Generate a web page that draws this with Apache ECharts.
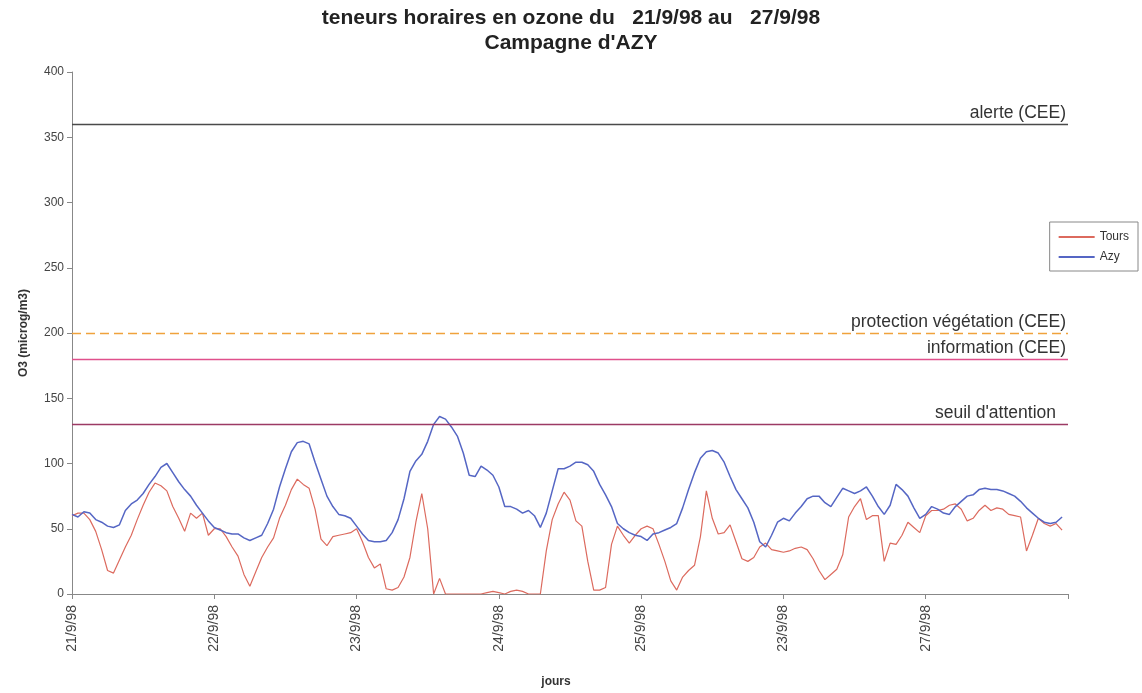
<!DOCTYPE html>
<html>
<head>
<meta charset="utf-8">
<script src="https://cdn.jsdelivr.net/npm/echarts@6/dist/echarts.min.js"></script>
<style>
  html, body { margin: 0; padding: 0; background: #fff; }
  #chart { width: 1142px; height: 693px; }
</style>
</head>
<body>
<div id="chart"></div>
<script>
// day labels, one per 24 hourly points (6th label as printed on the original)
const dayLabels = ['21/9/98', '22/9/98', '23/9/98', '24/9/98', '25/9/98', '23/9/98', '27/9/98', ''];

// hourly ozone, microg/m3
const tours = [
  60, 62, 62, 57, 48, 34, 18, 16, 26, 36, 45, 57, 68, 78, 85, 83, 79, 67, 58, 48, 62, 58, 62, 45,
  50, 50, 44, 36, 29, 15, 6, 17, 28, 36, 43, 58, 68, 80, 88, 84, 81, 65, 42, 37, 44, 45, 46, 47,
  50, 40, 28, 20, 23, 4, 3, 5, 13, 28, 55, 77, 50, 0, 12, 0, 0, 0, 0, 0, 0, 0, 1, 2,
  1, 0, 2, 3, 2, 0, 0, 0, 33, 57, 69, 78, 72, 56, 52, 25, 3, 3, 5, 38, 52, 45, 39, 45,
  50, 52, 50, 38, 25, 10, 3, 13, 18, 22, 44, 79, 58, 46, 47, 53, 40, 27, 25, 28, 36, 39, 34, 33,
  32, 33, 35, 36, 34, 27, 18, 11, 15, 19, 30, 59, 67, 73, 57, 60, 60, 25, 39, 38, 45, 55, 51, 47,
  60, 64, 64, 65, 68, 69, 65, 56, 58, 64, 68, 64, 66, 65, 61, 60, 59, 33, 45, 58, 54, 52, 54, 49,
];

const azy = [
  61, 59, 63, 62, 57, 55, 52, 51, 53, 64, 69, 72, 77, 84, 90, 97, 100, 93, 86, 80, 75, 68, 62, 56,
  51, 49, 47, 46, 46, 43, 41, 43, 45, 54, 65, 82, 96, 109, 116, 117, 115, 101, 88, 75, 67, 61, 60, 58,
  52, 46, 41, 40, 40, 41, 47, 57, 73, 94, 102, 107, 117, 130, 136, 134, 128, 121, 108, 91, 90, 98, 95, 91,
  82, 67, 67, 65, 62, 64, 60, 51, 62, 79, 96, 96, 98, 101, 101, 99, 94, 84, 76, 67, 54, 50, 47, 45,
  44, 41, 46, 47, 49, 51, 54, 66, 80, 93, 104, 109, 110, 108, 101, 90, 80, 73, 66, 55, 40, 36, 45, 55,
  58, 56, 62, 67, 73, 75, 75, 70, 67, 74, 81, 79, 77, 79, 82, 75, 67, 61, 68, 84, 80, 75, 66, 58,
  61, 67, 65, 62, 61, 67, 71, 75, 76, 80, 81, 80, 80, 79, 77, 75, 71, 66, 62, 58, 55, 54, 55, 59,
];

// regulatory thresholds
const thresholdNames = ['alerte (CEE)', 'protection végétation (CEE)', 'information (CEE)', "seuil d'attention"];
const thresholdValues = [360, 200, 180, 130];
const thresholdColors = ['#4a4a4a', '#f0a23c', '#e0508c', '#9c3a64'];

const hours = [];
for (let i = 0; i <= 168; i++) {
  hours.push(i % 24 === 0 ? dayLabels[i / 24] : '');
}

const font = 'Liberation Sans, Arial, sans-serif';

const chart = echarts.init(document.getElementById('chart'));

const option = {
  animation: false,
  textStyle: { fontFamily: font },
  title: {
    text: "teneurs horaires en ozone du   21/9/98 au   27/9/98\nCampagne d'AZY",
    left: 'center',
    top: 1,
    textStyle: {
      fontFamily: font,
      fontSize: 21,
      fontWeight: 'bold',
      color: '#222',
      lineHeight: 25,
    },
  },
  grid: {
    left: 72,
    right: 74,
    top: 72,
    bottom: 96,
  },
  legend: {
    orient: 'vertical',
    right: 4,
    top: 222,
    itemWidth: 36,
    itemHeight: 2,
    itemGap: 8,
    padding: [9, 9, 8, 9],
    borderColor: '#888',
    borderWidth: 1,
    backgroundColor: '#fff',
    icon: 'rect',
    textStyle: { fontSize: 12, color: '#333', fontFamily: font },
    data: ['Tours', 'Azy'],
  },
  xAxis: {
    type: 'category',
    data: hours,
    boundaryGap: false,
    name: 'jours',
    nameLocation: 'middle',
    nameGap: 82,
    nameTextStyle: { fontSize: 12, fontWeight: 'bold', color: '#333', padding: [0, 28, 0, 0] },
    axisLine: { lineStyle: { color: '#888' } },
    axisTick: { interval: 23, length: 5, lineStyle: { color: '#888' } },
    axisLabel: {
      interval: 23,
      rotate: 90,
      fontSize: 14,
      color: '#444',
      margin: 11,
    },
    splitLine: { show: false },
  },
  yAxis: {
    type: 'value',
    min: 0,
    max: 400,
    interval: 50,
    name: 'O3 (microg/m3)',
    nameLocation: 'middle',
    nameGap: 42,
    nameTextStyle: { fontSize: 12, fontWeight: 'bold', color: '#333' },
    axisLine: { show: true, lineStyle: { color: '#888' } },
    axisTick: { show: true, length: 5, lineStyle: { color: '#888' } },
    axisLabel: { fontSize: 12, color: '#444', margin: 8 },
    splitLine: { show: false },
  },
  series: [
    {
      name: 'Tours',
      type: 'line',
      data: tours,
      symbol: 'none',
      color: '#dc6a5e',
      lineStyle: { width: 1.2, color: '#dc6a5e' },
      markLine: {
        silent: true,
        symbol: 'none',
        data: thresholdValues.map((v, i) => ({
          name: thresholdNames[i],
          yAxis: v,
          lineStyle: {
            color: thresholdColors[i],
            width: 1.3,
            type: i === 1 ? [9, 5] : 'solid',
          },
          label: {
            show: true,
            position: 'insideEndTop',
            formatter: '{b}',
            fontSize: 17.5,
            color: '#333',
            fontFamily: font,
            distance: [i === 3 ? 12 : 2, 2],
          },
        })),
      },
    },
    {
      name: 'Azy',
      type: 'line',
      data: azy,
      symbol: 'none',
      color: '#5566c4',
      lineStyle: { width: 1.5, color: '#5566c4' },
    },
  ],
};

chart.setOption(option);
</script>
</body>
</html>
